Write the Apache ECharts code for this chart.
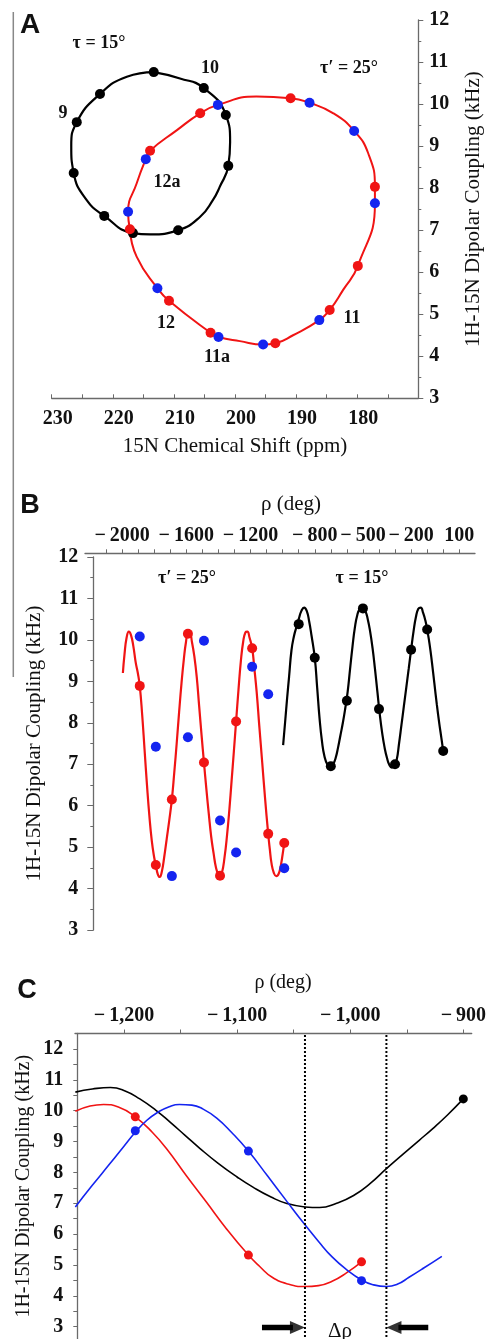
<!DOCTYPE html>
<html>
<head>
<meta charset="utf-8" />
<title>PISA wheels</title>
<script src="https://cdn.jsdelivr.net/npm/echarts@6.0.0/dist/echarts.min.js"></script>
<style>
  html, body { margin: 0; padding: 0; background: #fff; }
  #chart { width: 486px; height: 1339px; }
</style>
</head>
<body>
<div id="chart"></div>
<script>
// ---- panel A : 15N shift vs dipolar coupling (wheels) ----
var aBlackX = [213.3, 205.1, 201.5, 201.1, 209.3, 216.7, 221.4, 226.4, 225.9, 222.1];
var aBlackY = [10.76, 10.38, 9.74, 8.53, 7.00, 6.93, 7.34, 8.36, 9.57, 10.24];
var aRedX = [217.2, 210.8, 204.0, 193.4, 184.5, 179.9, 177.1, 190.9, 205.7, 213.9];
var aRedY = [7.02, 5.32, 4.56, 4.31, 5.10, 6.15, 8.03, 10.14, 9.78, 8.89];
var aBlueX = [212.7, 202.7, 195.4, 186.2, 177.1, 180.5, 187.8, 202.8, 214.6, 217.5];
var aBlueY = [5.62, 4.46, 4.28, 4.86, 7.64, 9.36, 10.03, 9.98, 8.69, 7.44];
// wheel outlines
var aBlackLoopX = [213.3, 209.0, 205.1, 201.5, 200.8, 201.1, 202.5, 203.6, 205.7, 209.3, 213.9, 216.7, 221.4, 224.3, 226.4, 226.8, 225.9, 222.1, 217.7, 213.3];
var aBlackLoopY = [10.76, 10.61, 10.38, 9.74, 9.10, 8.53, 8.03, 7.72, 7.32, 7.00, 6.90, 6.93, 7.34, 7.72, 8.36, 9.00, 9.57, 10.24, 10.65, 10.76];
var aRedLoopX = [217.2, 216.1, 212.7, 210.8, 204.0, 202.7, 199.2, 195.4, 193.4, 190.5, 186.2, 184.5, 182.3, 179.9, 177.1, 177.1, 178.2, 180.5, 183.9, 187.8, 190.9, 196.5, 202.8, 205.7, 209.5, 213.9, 214.6, 216.1, 217.5, 217.2];
var aRedLoopY = [7.02, 6.37, 5.62, 5.32, 4.56, 4.46, 4.36, 4.28, 4.31, 4.50, 4.86, 5.10, 5.58, 6.15, 7.64, 8.03, 8.83, 9.36, 9.78, 10.03, 10.14, 10.18, 9.98, 9.78, 9.38, 8.89, 8.69, 8.11, 7.44, 7.02];

// ---- panel B : coupling vs rho ----
var bRho = [-1890, -1790, -1690, -1590, -1490, -1390, -1290, -1190, -1090, -990];
var bRed = [8.89, 4.57, 6.15, 10.15, 7.04, 4.31, 8.03, 9.80, 5.32, 5.10];
var bBlue = [10.08, 7.42, 4.30, 7.65, 9.98, 5.64, 4.87, 9.35, 8.69, 4.49];
var bBlackRho = [-900, -800, -700, -600, -500, -400, -300, -200, -100, 0];
var bBlack = [10.38, 9.57, 6.95, 8.53, 10.76, 8.33, 7.00, 9.76, 10.25, 7.32];
var bRedCurveRho = [-1995, -1985, -1972, -1958, -1945, -1930, -1915, -1902, -1890, -1875, -1860, -1845, -1830, -1815, -1800, -1790, -1778, -1766, -1752, -1738, -1722, -1706, -1690, -1675, -1660, -1645, -1630, -1615, -1602, -1590, -1578, -1565, -1550, -1535, -1520, -1505, -1490, -1475, -1460, -1445, -1430, -1415, -1400, -1390, -1378, -1362, -1346, -1332, -1318, -1304, -1290, -1275, -1260, -1246, -1232, -1220, -1206, -1190, -1176, -1162, -1145, -1127, -1110, -1090, -1080, -1069, -1055, -1040, -1028, -1016, -1003, -990];
var bRedCurveVal = [9.2, 9.65, 10.05, 10.2, 10.12, 9.85, 9.45, 9.2, 8.89, 8.2, 7.35, 6.5, 5.75, 5.15, 4.75, 4.57, 4.35, 4.28, 4.42, 4.75, 5.2, 5.65, 6.15, 6.8, 7.5, 8.25, 8.95, 9.55, 9.95, 10.15, 10.15, 9.95, 9.6, 9.1, 8.4, 7.7, 7.04, 6.4, 5.8, 5.25, 4.85, 4.5, 4.33, 4.31, 4.38, 4.75, 5.3, 5.9, 6.6, 7.3, 8.03, 8.8, 9.5, 9.95, 10.18, 10.2, 10.05, 9.8, 9.3, 8.75, 7.9, 7.03, 6.2, 5.32, 4.95, 4.6, 4.38, 4.3, 4.33, 4.47, 4.75, 5.1];
var bBlackCurveRho = [-997, -985, -972, -960, -945, -929, -915, -900, -883, -866, -850, -835, -820, -800, -785, -770, -755, -740, -720, -700, -685, -670, -655, -640, -625, -610, -595, -580, -565, -550, -535, -520, -500, -485, -470, -455, -440, -425, -410, -395, -380, -365, -350, -335, -320, -305, -290, -275, -260, -245, -230, -215, -200, -185, -170, -155, -140, -125, -110, -100, -85, -70, -55, -40, -25, -12, 0];
var bBlackCurveVal = [7.46, 8.0, 8.6, 9.11, 9.75, 10.1, 10.3, 10.5, 10.7, 10.78, 10.7, 10.45, 10.1, 9.57, 8.85, 8.1, 7.55, 7.2, 6.98, 6.93, 7.0, 7.15, 7.4, 7.7, 8.0, 8.35, 8.75, 9.3, 9.84, 10.3, 10.6, 10.74, 10.78, 10.7, 10.5, 10.2, 9.8, 9.3, 8.75, 8.2, 7.75, 7.4, 7.15, 6.98, 6.92, 6.96, 7.1, 7.5, 7.95, 8.4, 8.85, 9.3, 9.76, 10.2, 10.55, 10.75, 10.78, 10.65, 10.45, 10.25, 9.9, 9.45, 8.95, 8.45, 8.0, 7.65, 7.32];
var bTickValues = [-2100, -2000, -1900, -1800, -1700, -1600, -1500, -1400, -1300, -1200, -1100, -1000, -900, -800, -700, -600, -500, -400, -300, -200, -100, 0, 100];
var bLabelValues = [-2000, -1600, -1200, -800, -500, -200, 100];

// ---- panel C : zoom of B near rho = -1000 ----
var cBlackRho = [-1243, -1228, -1212, -1199, -1186, -1172, -1159, -1146, -1133, -1117, -1100, -1086, -1070, -1056, -1040, -1027, -1012, -997, -982, -968, -953, -939, -927, -914, -900];
var cBlackVal = [10.6, 10.7, 10.75, 10.64, 10.38, 10.02, 9.62, 9.2, 8.78, 8.3, 7.85, 7.52, 7.2, 6.99, 6.88, 6.86, 7.0, 7.25, 7.65, 8.12, 8.6, 9.04, 9.42, 9.86, 10.38];
var cRedRho = [-1243, -1230, -1218, -1205, -1190, -1175, -1162, -1145, -1127, -1110, -1090, -1080, -1069, -1055, -1040, -1028, -1016, -1003, -990];
var cRedVal = [9.98, 10.15, 10.2, 10.12, 9.8, 9.3, 8.75, 7.9, 7.03, 6.2, 5.32, 4.95, 4.6, 4.38, 4.3, 4.33, 4.47, 4.75, 5.1];
var cBlueRho = [-1243, -1228, -1212, -1200, -1190, -1180, -1170, -1160, -1151, -1140, -1130, -1118, -1105, -1090, -1073, -1056, -1040, -1028, -1016, -1003, -990, -980, -968, -958, -948, -935, -919];
var cBlueVal = [6.88, 7.58, 8.3, 8.85, 9.3, 9.68, 9.95, 10.13, 10.2, 10.18, 10.05, 9.76, 9.3, 8.69, 7.88, 7.06, 6.3, 5.76, 5.26, 4.84, 4.51, 4.36, 4.3, 4.38, 4.6, 4.9, 5.28];
var cTickValues = [-1200, -1150, -1100, -1050, -1000, -950, -900];
var cLabelValues = [-1200, -1100, -1000, -900];
var cYTickValues = [3, 3.5, 4, 4.5, 5, 5.5, 6, 6.5, 7, 7.5, 8, 8.5, 9, 9.5, 10, 10.5, 11, 11.5, 12];
var cYLabelValues = [3, 4, 5, 6, 7, 8, 9, 10, 11, 12];
var deltaRho = [-1040, -968];     // dotted markers
var arrowTails = [-1078, -931];   // delta-rho arrows
var arrowY = 2.97;

var serif = '"Liberation Serif", "Times New Roman", serif';
var sans = '"Liberation Sans", Arial, sans-serif';
var RED = '#f01414', BLUE = '#1424f0', AXIS = '#6a6a6a';

function zip(xs, ys) { return xs.map(function (x, i) { return [x, ys[i]]; }); }
function negLabel(v, comma) {
  var s = String(Math.abs(v));
  if (comma) s = s.replace(/\B(?=(\d{3})+(?!\d))/g, ',');
  return v < 0 ? '\u2212\u2009' + s : s;
}
var tickLabel = { color: '#111', fontFamily: serif, fontWeight: 'bold', fontSize: 20 };
var nameStyle = { color: '#111', fontFamily: serif, fontSize: 21 };

function loop(data, color, w, xi) {
  return { type: 'line', xAxisIndex: xi, yAxisIndex: xi, data: data, smooth: 0.5, showSymbol: false,
    lineStyle: { color: color, width: w }, silent: true, z: 2 };
}
function dots(data, color, size, xi) {
  return { type: 'scatter', xAxisIndex: xi, yAxisIndex: xi, data: data, symbolSize: size,
    itemStyle: { color: color, opacity: 1 }, silent: true, z: 4 };
}
function txt(x, y, s, font) {
  return { type: 'text', x: x, y: y, silent: true,
    style: { text: s, font: font, fill: '#111', align: 'center', verticalAlign: 'middle' } };
}
function axisLine() {
  return { show: true, onZero: false, lineStyle: { color: AXIS, width: 1.3 } };
}

var chart = echarts.init(document.getElementById('chart'), null, { renderer: 'canvas' });
var bold18 = 'bold 18px ' + serif;

var arrowSeries = [];
[0, 1].forEach(function (k) {
  var tip = deltaRho[k], dir = k === 0 ? 1 : -1;
  var headLen = 15 / 1.131; // head length in degrees for panel C scale
  arrowSeries.push({ type: 'line', xAxisIndex: 2, yAxisIndex: 2, showSymbol: false, silent: true,
    data: [[arrowTails[k], arrowY], [tip - dir * headLen * 0.8, arrowY]],
    lineStyle: { color: '#000', width: 5.5, cap: 'butt' }, z: 5 });
  arrowSeries.push({ type: 'scatter', xAxisIndex: 2, yAxisIndex: 2, silent: true,
    data: [[tip - dir * headLen / 2, arrowY]], symbol: 'triangle', symbolSize: [13, 15],
    symbolRotate: dir > 0 ? -90 : 90, itemStyle: { color: '#000' }, z: 6 });
});

var option = {
  animation: false,
  backgroundColor: '#fff',
  grid: [
    { left: 51.7, right: 67.7, top: 20, height: 378.3, outerBoundsMode: 'none' },
    { left: 85, right: 11, top: 557, height: 373, outerBoundsMode: 'none' },
    { left: 75, right: 14.3, top: 1033.5, height: 305.5, outerBoundsMode: 'none' }
  ],
  xAxis: [
    { gridIndex: 0, type: 'value', min: 170, max: 230, interval: 5, inverse: true, position: 'bottom',
      axisLine: axisLine(),
      axisTick: { show: true, inside: true, length: 4, lineStyle: { color: AXIS } },
      axisLabel: Object.assign({ margin: 11, padding: [0, 0, 0, 12], hideOverlap: false,
        formatter: function (v) { return (v % 10 === 0 && v !== 170) ? String(v) : ''; } }, tickLabel),
      splitLine: { show: false },
      name: '15N Chemical Shift (ppm)', nameLocation: 'middle', nameGap: 38, nameMoveOverlap: false,
      nameTextStyle: nameStyle },
    { gridIndex: 1, type: 'value', min: -2231, max: 198, position: 'top', offset: 3.7,
      axisLine: axisLine(),
      axisTick: { show: true, inside: false, length: 4, customValues: bTickValues, lineStyle: { color: AXIS } },
      axisLabel: Object.assign({ margin: 7, customValues: bLabelValues, hideOverlap: false,
        formatter: function (v) { return negLabel(v, false); } }, tickLabel),
      splitLine: { show: false } },
    { gridIndex: 2, type: 'value', min: -1243.3, max: -892.6, position: 'top',
      axisLine: axisLine(),
      axisTick: { show: true, inside: false, length: 4, customValues: cTickValues, lineStyle: { color: AXIS } },
      axisLabel: Object.assign({ margin: 8, customValues: cLabelValues, hideOverlap: false,
        formatter: function (v) { return negLabel(v, true); } }, tickLabel),
      splitLine: { show: false } }
  ],
  yAxis: [
    { gridIndex: 0, type: 'value', min: 3, max: 12, interval: 1, position: 'right',
      axisLine: axisLine(),
      axisTick: { show: true, inside: false, length: 5, lineStyle: { color: AXIS } },
      minorTick: { show: true, splitNumber: 2, length: 3, lineStyle: { color: AXIS } },
      axisLabel: Object.assign({ margin: 11, hideOverlap: false }, tickLabel),
      splitLine: { show: false },
      name: '1H-15N Dipolar Coupling (kHz)', nameLocation: 'middle', nameGap: 45, nameMoveOverlap: false,
      nameTextStyle: nameStyle },
    { gridIndex: 1, type: 'value', min: 3, max: 12, interval: 1, position: 'left', offset: -8.3,
      axisLine: axisLine(),
      axisTick: { show: true, inside: false, length: 6, lineStyle: { color: AXIS } },
      minorTick: { show: true, splitNumber: 2, length: 3, lineStyle: { color: AXIS } },
      axisLabel: Object.assign({ margin: 15, hideOverlap: false }, tickLabel),
      splitLine: { show: false },
      name: '1H-15N Dipolar Coupling (kHz)', nameLocation: 'middle', nameGap: 48, nameMoveOverlap: false,
      nameTextStyle: nameStyle },
    { gridIndex: 2, type: 'value', min: 2.6, max: 12.5, position: 'left', offset: -2.3,
      axisLine: axisLine(),
      axisTick: { show: true, inside: false, length: 4, customValues: cYTickValues, lineStyle: { color: AXIS } },
      axisLabel: Object.assign({ margin: 14, customValues: cYLabelValues, hideOverlap: false }, tickLabel),
      splitLine: { show: false },
      name: '1H-15N Dipolar Coupling (kHz)', nameLocation: 'middle', nameGap: 44, nameMoveOverlap: false,
      nameTextStyle: Object.assign({}, nameStyle, { fontSize: 20 }) }
  ],
  series: [
    // A
    loop(zip(aBlackLoopX, aBlackLoopY), '#000', 2.2, 0),
    dots(zip(aBlackX, aBlackY), '#000', 10, 0),
    loop(zip(aRedLoopX, aRedLoopY), RED, 2, 0),
    dots(zip(aRedX, aRedY), RED, 10, 0),
    dots(zip(aBlueX, aBlueY), BLUE, 10, 0),
    // B
    loop(zip(bRedCurveRho, bRedCurveVal), RED, 2.2, 1),
    loop(zip(bBlackCurveRho, bBlackCurveVal), '#000', 2.2, 1),
    dots(zip(bRho, bRed), RED, 10, 1),
    dots(zip(bRho, bBlue), BLUE, 10, 1),
    dots(zip(bBlackRho, bBlack), '#000', 10, 1),
    // C
    loop(zip(cBlackRho, cBlackVal), '#000', 1.6, 2),
    loop(zip(cRedRho, cRedVal), RED, 1.6, 2),
    loop(zip(cBlueRho, cBlueVal), BLUE, 1.6, 2),
    dots(zip(bRho, bRed), RED, 9, 2),
    dots(zip(bRho, bBlue), BLUE, 9, 2),
    dots(zip(bBlackRho, bBlack), '#000', 9, 2),
    { type: 'line', xAxisIndex: 2, yAxisIndex: 2, showSymbol: false, silent: true,
      data: [[deltaRho[0], 12.45], [deltaRho[0], 2.6]], lineStyle: { color: '#000', width: 2, type: [2, 2] }, z: 3 },
    { type: 'line', xAxisIndex: 2, yAxisIndex: 2, showSymbol: false, silent: true,
      data: [[deltaRho[1], 12.45], [deltaRho[1], 2.6]], lineStyle: { color: '#000', width: 2, type: [2, 2] }, z: 3 }
  ].concat(arrowSeries),
  graphic: [
    { type: 'line', silent: true, shape: { x1: 13.3, y1: 12, x2: 13.3, y2: 677 },
      style: { stroke: '#888', lineWidth: 1.5 } },
    txt(30, 25, 'A', 'bold 28px ' + sans),
    txt(99, 43, '\u03c4 = 15\u00b0', bold18),
    txt(210, 68, '10', bold18),
    txt(349, 68, '\u03c4\u2032 = 25\u00b0', bold18),
    txt(63, 113, '9', bold18),
    txt(167, 182, '12a', bold18),
    txt(166, 323, '12', bold18),
    txt(217, 357, '11a', bold18),
    txt(352, 318, '11', bold18),
    txt(30, 506, 'B', 'bold 27px ' + sans),
    txt(291, 504, '\u03c1 (deg)', '21px ' + serif),
    txt(187, 578, '\u03c4\u2032 = 25\u00b0', bold18),
    txt(362, 578, '\u03c4 = 15\u00b0', bold18),
    txt(27, 991, 'C', 'bold 27px ' + sans),
    txt(283, 983, '\u03c1 (deg)', '20px ' + serif),
    txt(340, 1331, '\u0394\u03c1', '21px ' + serif)
  ]
};
chart.setOption(option);
</script>
</body>
</html>
